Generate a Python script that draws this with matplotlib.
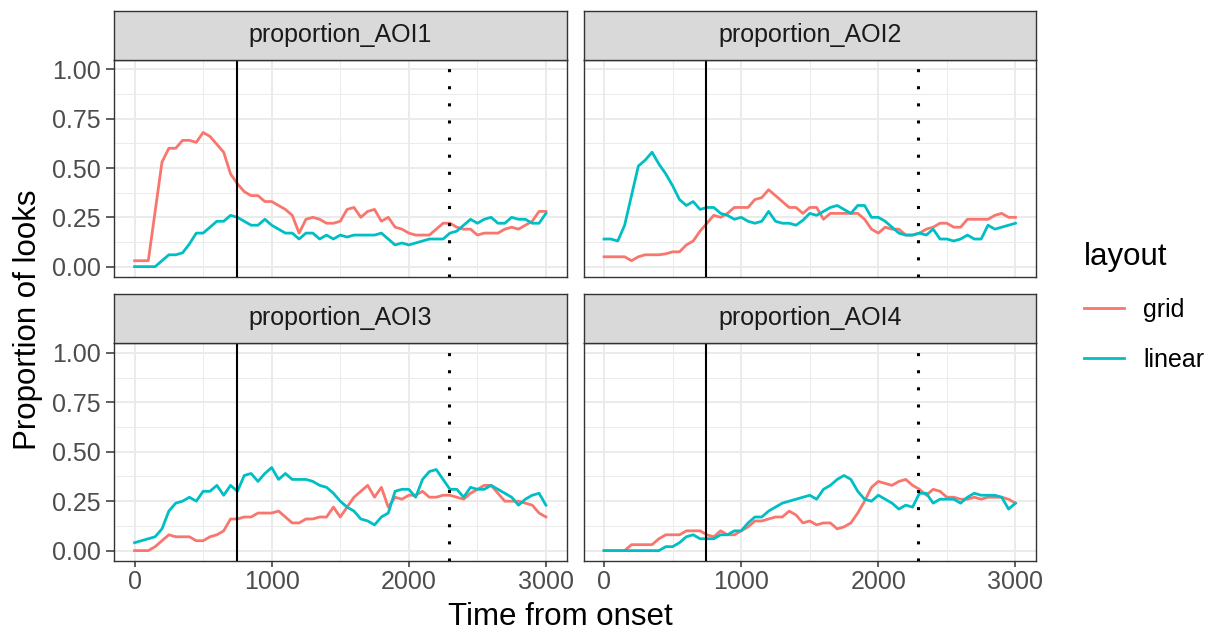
import numpy as np
import matplotlib
matplotlib.use("Agg")
import matplotlib.pyplot as plt
from matplotlib.lines import Line2D

plt.rcParams['font.family'] = ['Liberation Sans', 'DejaVu Sans']

# ---------------- data ----------------
time_ms = np.arange(0, 3001, 50)

panels = ["proportion_AOI1", "proportion_AOI2", "proportion_AOI3", "proportion_AOI4"]
layouts = ["grid", "linear"]

aoi1_grid = [0.03, 0.03, 0.03, 0.28, 0.53, 0.60, 0.60, 0.64, 0.64, 0.63,
             0.68, 0.66, 0.62, 0.58, 0.47, 0.42, 0.38, 0.36, 0.36, 0.33,
             0.33, 0.31, 0.29, 0.26, 0.17, 0.24, 0.25, 0.24, 0.22, 0.22,
             0.23, 0.29, 0.30, 0.25, 0.28, 0.29, 0.23, 0.25, 0.20, 0.19,
             0.17, 0.16, 0.16, 0.16, 0.19, 0.22, 0.22, 0.20, 0.19, 0.19,
             0.16, 0.17, 0.17, 0.17, 0.19, 0.20, 0.19, 0.21, 0.23, 0.28,
             0.28]
aoi1_linear = [0.00, 0.00, 0.00, 0.00, 0.03, 0.06, 0.06, 0.07, 0.115, 0.17,
               0.17, 0.20, 0.23, 0.23, 0.26, 0.25, 0.23, 0.21, 0.21, 0.24,
               0.21, 0.19, 0.17, 0.17, 0.14, 0.17, 0.17, 0.14, 0.16, 0.14,
               0.16, 0.15, 0.16, 0.16, 0.16, 0.16, 0.17, 0.14, 0.11, 0.12,
               0.11, 0.12, 0.13, 0.14, 0.14, 0.14, 0.17, 0.18, 0.21, 0.24,
               0.22, 0.24, 0.25, 0.22, 0.22, 0.25, 0.24, 0.24, 0.22, 0.22,
               0.27]
aoi2_grid = [0.05, 0.05, 0.05, 0.05, 0.03, 0.05, 0.06, 0.06, 0.06, 0.065,
             0.075, 0.075, 0.11, 0.13, 0.18, 0.22, 0.26, 0.25, 0.27, 0.30,
             0.30, 0.30, 0.34, 0.35, 0.39, 0.36, 0.33, 0.30, 0.30, 0.27,
             0.30, 0.30, 0.24, 0.27, 0.27, 0.27, 0.27, 0.27, 0.24, 0.19,
             0.17, 0.20, 0.19, 0.19, 0.16, 0.16, 0.17, 0.19, 0.20, 0.22,
             0.22, 0.20, 0.20, 0.24, 0.24, 0.24, 0.24, 0.26, 0.27, 0.25,
             0.25]
aoi2_linear = [0.14, 0.14, 0.13, 0.21, 0.36, 0.51, 0.54, 0.58, 0.52, 0.47,
               0.41, 0.34, 0.31, 0.33, 0.29, 0.30, 0.30, 0.27, 0.26, 0.24,
               0.25, 0.23, 0.22, 0.23, 0.28, 0.23, 0.22, 0.22, 0.21, 0.235,
               0.27, 0.26, 0.28, 0.30, 0.31, 0.29, 0.27, 0.31, 0.31, 0.25,
               0.25, 0.23, 0.20, 0.17, 0.16, 0.16, 0.17, 0.16, 0.19, 0.14,
               0.14, 0.13, 0.14, 0.16, 0.14, 0.14, 0.21, 0.19, 0.20, 0.21,
               0.22]
aoi3_grid = [0.00, 0.00, 0.00, 0.02, 0.05, 0.08, 0.07, 0.07, 0.07, 0.05,
             0.05, 0.07, 0.08, 0.10, 0.16, 0.16, 0.17, 0.17, 0.19, 0.19,
             0.19, 0.20, 0.17, 0.14, 0.14, 0.16, 0.16, 0.17, 0.17, 0.22,
             0.17, 0.22, 0.27, 0.30, 0.33, 0.27, 0.32, 0.22, 0.27, 0.26,
             0.28, 0.28, 0.30, 0.27, 0.27, 0.28, 0.28, 0.27, 0.26, 0.29,
             0.31, 0.33, 0.33, 0.29, 0.25, 0.25, 0.25, 0.24, 0.23, 0.19,
             0.17]
aoi3_linear = [0.04, 0.05, 0.06, 0.07, 0.11, 0.20, 0.24, 0.25, 0.27, 0.25,
               0.30, 0.30, 0.33, 0.28, 0.33, 0.30, 0.38, 0.39, 0.35, 0.39,
               0.42, 0.36, 0.39, 0.36, 0.36, 0.36, 0.35, 0.33, 0.32, 0.29,
               0.25, 0.22, 0.20, 0.16, 0.15, 0.13, 0.17, 0.19, 0.30, 0.31,
               0.31, 0.27, 0.36, 0.40, 0.41, 0.36, 0.31, 0.31, 0.27, 0.32,
               0.31, 0.31, 0.33, 0.31, 0.29, 0.27, 0.23, 0.26, 0.28, 0.29,
               0.23]
aoi4_grid = [0.00, 0.00, 0.00, 0.00, 0.03, 0.03, 0.03, 0.03, 0.06, 0.08,
             0.08, 0.08, 0.10, 0.10, 0.10, 0.08, 0.07, 0.10, 0.08, 0.08,
             0.10, 0.12, 0.15, 0.15, 0.16, 0.17, 0.17, 0.20, 0.18, 0.14,
             0.15, 0.13, 0.14, 0.14, 0.11, 0.12, 0.14, 0.19, 0.25, 0.32,
             0.35, 0.34, 0.33, 0.35, 0.36, 0.33, 0.31, 0.28, 0.31, 0.30,
             0.27, 0.27, 0.26, 0.26, 0.27, 0.26, 0.27, 0.27, 0.27, 0.26,
             0.24]
aoi4_linear = [0.00, 0.00, 0.00, 0.00, 0.00, 0.00, 0.00, 0.00, 0.00, 0.02,
               0.02, 0.04, 0.07, 0.08, 0.06, 0.06, 0.06, 0.08, 0.08, 0.10,
               0.10, 0.14, 0.17, 0.17, 0.20, 0.22, 0.24, 0.25, 0.26, 0.27,
               0.28, 0.26, 0.31, 0.33, 0.36, 0.38, 0.36, 0.30, 0.26, 0.25,
               0.28, 0.26, 0.24, 0.21, 0.23, 0.22, 0.29, 0.29, 0.24, 0.26,
               0.26, 0.26, 0.24, 0.27, 0.29, 0.28, 0.28, 0.28, 0.27, 0.21,
               0.24]

series = {
    "proportion_AOI1": {"grid": aoi1_grid, "linear": aoi1_linear},
    "proportion_AOI2": {"grid": aoi2_grid, "linear": aoi2_linear},
    "proportion_AOI3": {"grid": aoi3_grid, "linear": aoi3_linear},
    "proportion_AOI4": {"grid": aoi4_grid, "linear": aoi4_linear},
}

onset_line = 745
offset_line = 2290

x_ticks = [0, 1000, 2000, 3000]
y_ticks = [0.0, 0.25, 0.5, 0.75, 1.0]
y_ticklabels = ["0.00", "0.25", "0.50", "0.75", "1.00"]

# ---------------- styling ----------------
colors = {"grid": "#F8766D", "linear": "#00BFC4"}
W, H = 1215, 631
fig = plt.figure(figsize=(W / 100, H / 100), dpi=100)

def fx(px):
    return px / W

def fy(py):
    return 1 - py / H

col_left = [114, 583.5]
col_width = 452.5
row_plot = [(59.5, 276.5), (343, 560.5)]   # top, bottom in px
row_strip = [(11, 59.5), (293.5, 343)]

for idx, name in enumerate(panels):
    r, c = divmod(idx, 2)
    left = col_left[c]
    top, bot = row_plot[r]
    ax = fig.add_axes([fx(left), fy(bot), fx(col_width), (bot - top) / H])
    ax.set_xlim(-150, 3150)
    ax.set_ylim(-0.05, 1.05)
    ax.set_xticks(x_ticks)
    ax.set_xticks([500, 1500, 2500], minor=True)
    ax.set_yticks(y_ticks)
    ax.set_yticklabels(y_ticklabels)
    ax.set_yticks([0.125, 0.375, 0.625, 0.875], minor=True)
    ax.grid(which="major", color="#EBEBEB", lw=1.4)
    ax.grid(which="minor", color="#EBEBEB", lw=0.7)
    ax.set_axisbelow(True)
    for sp in ax.spines.values():
        sp.set_color("#333333")
        sp.set_linewidth(1.0)
    ax.tick_params(which="major", length=5.5, width=1.1, color="#333333",
                   labelsize=18, labelcolor="#4D4D4D", pad=4.2)
    ax.tick_params(axis="x", which="major", length=4.5, pad=2.0)
    ax.tick_params(which="minor", length=0)
    if r == 0:
        ax.tick_params(axis="x", which="major", length=0, labelbottom=False)
    if c == 1:
        ax.tick_params(axis="y", which="major", length=0, labelleft=False)

    for lay in layouts:
        ax.plot(time_ms, series[name][lay], color=colors[lay], lw=2.0,
                solid_joinstyle="round", zorder=3)
    ax.axvline(onset_line, color="black", lw=1.5, zorder=4)
    ax.axvline(offset_line, color="black", lw=2.2, linestyle=(0, (1, 4.6)),
               zorder=4)

    st, sb = row_strip[r]
    sax = fig.add_axes([fx(left), fy(sb), fx(col_width), (sb - st) / H])
    sax.set_facecolor("#D9D9D9")
    sax.set_xticks([])
    sax.set_yticks([])
    for sp in sax.spines.values():
        sp.set_color("#333333")
        sp.set_linewidth(1.0)
    sax.text(0.5, 0.5, name, ha="center", va="center", fontsize=18,
             color="#1A1A1A", transform=sax.transAxes)

fig.text(fx(560), fy(617), "Time from onset", ha="center", va="center",
         fontsize=22.5, color="black")
fig.text(fx(28), fy(320), "Proportion of looks", ha="center", va="center",
         rotation=90, fontsize=22.5, color="black")

handles = [Line2D([], [], color=colors[l], lw=2.0) for l in layouts]
leg = fig.legend(handles, layouts, title="layout", loc="upper left",
                 bbox_to_anchor=(fx(1061), fy(219)), frameon=False,
                 fontsize=18, title_fontsize=22.5, handlelength=1.6,
                 handletextpad=0.8, labelspacing=1.05, alignment="left")

fig.savefig("out.png", dpi=100)
